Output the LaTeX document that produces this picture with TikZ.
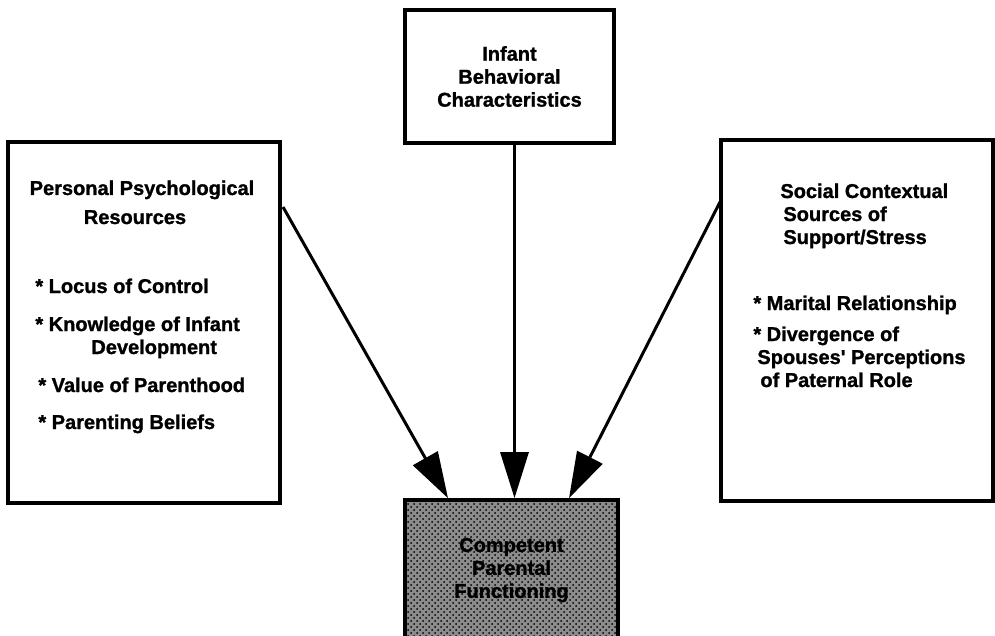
\documentclass[tikz,border=0pt]{standalone}
\usepackage{fontspec}
\setmainfont{Liberation Sans}
\newfontfamily\heavyfont{Liberation Sans}[BoldFeatures={FakeBold=1.2}]
\usetikzlibrary{arrows.meta,positioning,patterns}
\tikzset{
  panel/.style={
    draw=black,
    line width=1.8pt,
    fill=white,
    inner sep=0pt
  },
  boxtext/.style={
    font=\heavyfont\bfseries\fontsize{10}{11.5}\selectfont,
    align=center
  },
  itemtext/.style={
    font=\heavyfont\bfseries\fontsize{10}{11.5}\selectfont,
    inner sep=0pt,
    anchor=base west
  },
  shaded/.style={panel,fill=black!45,postaction={pattern=crosshatch dots}},
  bigarrow/.style={-{Triangle[length=23pt,width=14pt]},line width=1.5pt,draw=black}
}

\begin{document}
\begin{tikzpicture}[x=0.5pt,y=-0.5pt]
    \useasboundingbox (0,0) rectangle (995,636);

    \node[panel,boxtext,minimum width=104.5pt,minimum height=66.5pt] (infant) at (509.5,76.5) {Infant\\Behavioral\\Characteristics};
    \node[shaded,boxtext,minimum width=106.5pt,minimum height=70pt] (comp) at (511.5,570) {Competent\\Parental\\Functioning};

    \node[panel,minimum width=136pt,minimum height=180.5pt] (pers) at (144,322.5) {};
    \node[itemtext,anchor=base] (pershead) at (142,195) {Personal Psychological};
    \node[itemtext,anchor=base] (pershead2) at (135,224) {Resources};
    \node[itemtext] (locus) at (35,293) {* Locus of Control};
    \node[itemtext] (know) at (35,331) {* Knowledge of Infant};
    \node[itemtext] (devel) at (91,354) {Development};
    \node[itemtext] (value) at (38,392) {* Value of Parenthood};
    \node[itemtext] (belief) at (38,429) {* Parenting Beliefs};

    \node[panel,minimum width=136pt,minimum height=180.5pt] (social) at (857,320.5) {};
    \node[itemtext] (sochead) at (780,198) {Social Contextual};
    \node[itemtext] (sochead2) at (783,221) {Sources of};
    \node[itemtext] (sochead3) at (783,244) {Support/Stress};
    \node[itemtext] (marital) at (753,310) {* Marital Relationship};
    \node[itemtext] (diverg) at (753,341) {* Divergence of};
    \node[itemtext] (spouse) at (757,364) {Spouses' Perceptions};
    \node[itemtext] (role) at (760,387) {of Paternal Role};

    \coordinate (persout) at (283,207);
    \coordinate (socout) at (720,202);

    \draw[bigarrow] (persout) -- ([xshift=-31.75pt]comp.north);
    \draw[bigarrow] ([xshift=2.5pt]infant.south) -- ([xshift=1.5pt]comp.north);
    \draw[bigarrow] (socout) -- ([xshift=28.75pt]comp.north);
  \end{tikzpicture}
\end{document}
